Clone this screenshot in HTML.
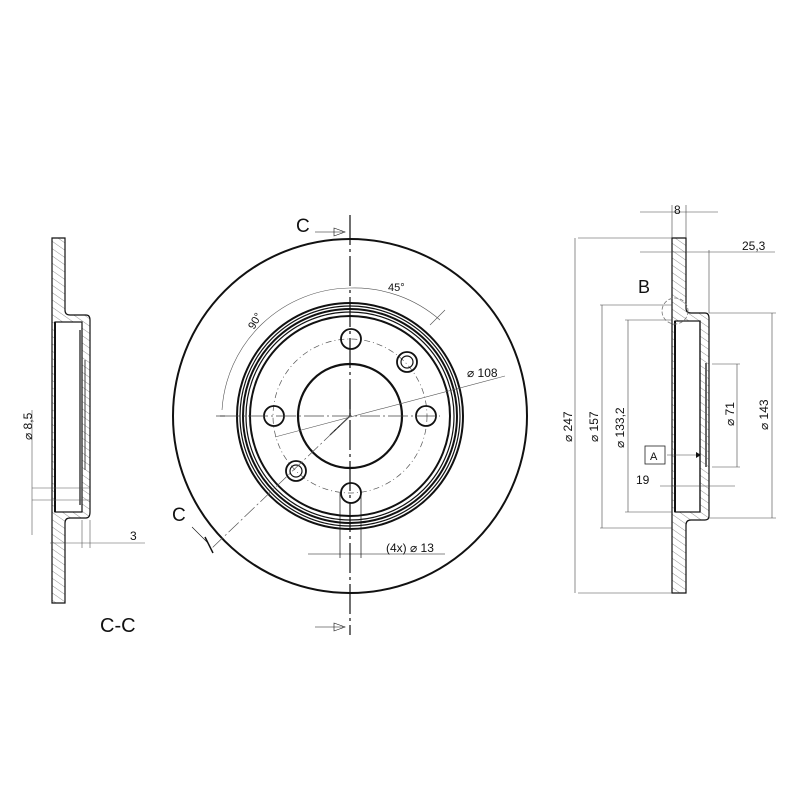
<!DOCTYPE html>
<html><head><meta charset="utf-8"><style>
html,body{margin:0;padding:0;background:#fff}
svg{display:block}
text{font-family:"Liberation Sans",sans-serif;fill:#111}
</style></head><body>
<svg width="800" height="800" viewBox="0 0 800 800" xmlns="http://www.w3.org/2000/svg">
<defs>
<pattern id="h" width="6" height="6" patternUnits="userSpaceOnUse" patternTransform="rotate(-55)">
<line x1="0" y1="0" x2="0" y2="6" stroke="#777" stroke-width="0.8"/>
</pattern>
</defs>
<rect width="800" height="800" fill="#fff"/>

<!-- ============ CENTER VIEW ============ -->
<g fill="none" stroke="#111">
<circle cx="350" cy="416" r="177" stroke-width="2"/>
<circle cx="350" cy="416" r="113" stroke-width="2"/>
<circle cx="350" cy="416" r="110" stroke-width="1.2"/>
<circle cx="350" cy="416" r="107" stroke-width="2"/>
<circle cx="350" cy="416" r="104" stroke-width="1.2"/>
<circle cx="350" cy="416" r="100" stroke-width="2"/>
<circle cx="350" cy="416" r="52" stroke-width="2.2"/>
<circle cx="350" cy="416" r="77" stroke-width="0.7" stroke-dasharray="6,3,1,3" stroke="#555"/>
<circle cx="351" cy="339" r="10" stroke-width="1.8"/>
<circle cx="274" cy="416" r="10" stroke-width="1.8"/>
<circle cx="426" cy="416" r="10" stroke-width="1.8"/>
<circle cx="351" cy="493" r="10" stroke-width="1.8"/>
<circle cx="407" cy="362" r="10" stroke-width="1.8"/><circle cx="407" cy="362" r="6" stroke-width="1.2"/>
<circle cx="296" cy="471" r="10" stroke-width="1.8"/><circle cx="296" cy="471" r="6" stroke-width="1.2"/>
<line x1="350" y1="215" x2="350" y2="635" stroke-width="1.2" stroke-dasharray="30,4,3,4"/>
<line x1="220" y1="416" x2="440" y2="416" stroke-width="0.7" stroke-dasharray="20,3,2,3" stroke="#444"/>
<line x1="350" y1="416" x2="330" y2="435" stroke-width="1.2"/>
<line x1="350" y1="416" x2="350" y2="390" stroke-width="1.2"/>
<line x1="350" y1="416" x2="212" y2="548" stroke-width="0.7" stroke-dasharray="14,3,2,3" stroke="#555"/>
<line x1="205" y1="537" x2="213" y2="553" stroke-width="1.5"/>
<line x1="315" y1="232" x2="343" y2="232" stroke-width="0.6"/>
<path d="M334 228 L345 232 L334 236 Z" stroke-width="0.6"/>
<line x1="315" y1="627" x2="343" y2="627" stroke-width="0.6"/>
<path d="M334 623 L345 627 L334 631 Z" stroke-width="0.6"/>
<line x1="192" y1="527" x2="208" y2="543" stroke-width="0.6"/>
<path d="M222 410 A130 130 0 0 1 350 288" stroke-width="0.6" stroke="#555"/>
<path d="M350 288 A130 130 0 0 1 440 320" stroke-width="0.6" stroke="#555"/>
<line x1="216" y1="416" x2="225" y2="416" stroke-width="0.6"/>
<line x1="430" y1="325" x2="445" y2="310" stroke-width="0.6" stroke="#555"/>
<line x1="275" y1="437" x2="505" y2="376" stroke-width="0.6" stroke="#555"/>
<line x1="340" y1="493" x2="340" y2="558" stroke-width="0.7"/>
<line x1="361" y1="493" x2="361" y2="558" stroke-width="0.7"/>
<line x1="308" y1="554" x2="445" y2="554" stroke-width="0.6"/>
</g>
<text x="296" y="232" font-size="19">C</text>
<text x="172" y="521" font-size="19">C</text>
<text x="388" y="291" font-size="11">45°</text>
<text x="254" y="330" font-size="11" transform="rotate(-60 254 330)">90°</text>
<text x="467" y="377" font-size="12">⌀ 108</text>
<text x="386" y="552" font-size="12">(4x) ⌀ 13</text>

<!-- ============ LEFT SECTION C-C ============ -->
<g stroke="#111" stroke-width="1.2">
<path d="M52 238 L65 238 L65 310 Q65 315 70 315 L86 315 Q90 315 90 320 L90 512 Q90 518 86 518 L70 518 Q65 518 65 523 L65 603 L52 603 Z" fill="url(#h)"/>
<rect x="55" y="322" width="27" height="190" fill="#fff"/>
<line x1="55" y1="322" x2="55" y2="512" stroke-width="2"/>
<line x1="80" y1="330" x2="80" y2="505"/>
<line x1="85" y1="360" x2="85" y2="470" stroke-width="0.8"/>
</g>
<g stroke="#555" stroke-width="0.6" fill="none">
<line x1="32" y1="488" x2="90" y2="488"/>
<line x1="32" y1="500" x2="90" y2="500"/>
<line x1="32" y1="410" x2="32" y2="535"/>
<line x1="50" y1="543" x2="145" y2="543"/>
<line x1="82" y1="520" x2="82" y2="548"/>
<line x1="90" y1="520" x2="90" y2="548"/>
</g>
<text x="32" y="440" font-size="12" transform="rotate(-90 32 440)">⌀ 8,5</text>
<text x="130" y="540" font-size="12">3</text>
<text x="100" y="632" font-size="20">C-C</text>

<!-- ============ RIGHT VIEW ============ -->
<g stroke="#111" stroke-width="1.2">
<path d="M672 238 L686 238 L686 308 Q686 313 691 313 L705 313 Q709 313 709 318 L709 516 Q709 520 705 520 L691 520 Q686 520 686 525 L686 593 L672 593 Z" fill="url(#h)"/>
<rect x="675" y="321" width="25" height="191" fill="#fff"/>
<line x1="675" y1="321" x2="675" y2="512" stroke-width="2"/>
<line x1="700" y1="321" x2="700" y2="512"/>
<line x1="706" y1="363" x2="706" y2="467" stroke-width="2" stroke="#666"/>
</g>
<circle cx="675" cy="311" r="13" fill="none" stroke="#777" stroke-width="0.8" stroke-dasharray="4,2"/>
<g stroke="#444" stroke-width="0.6" fill="none">
<line x1="578" y1="238" x2="672" y2="238"/>
<line x1="578" y1="593" x2="672" y2="593"/>
<line x1="575" y1="238" x2="575" y2="593"/>
<line x1="600" y1="305" x2="672" y2="305"/>
<line x1="600" y1="528" x2="672" y2="528"/>
<line x1="602" y1="305" x2="602" y2="528"/>
<line x1="625" y1="320" x2="672" y2="320"/>
<line x1="625" y1="512" x2="672" y2="512"/>
<line x1="628" y1="320" x2="628" y2="512"/>
<line x1="709" y1="313" x2="776" y2="313"/>
<line x1="709" y1="518" x2="776" y2="518"/>
<line x1="772" y1="313" x2="772" y2="518"/>
<line x1="712" y1="364" x2="740" y2="364"/>
<line x1="712" y1="467" x2="740" y2="467"/>
<line x1="737" y1="364" x2="737" y2="467"/>
<line x1="640" y1="212" x2="718" y2="212"/>
<line x1="672" y1="205" x2="672" y2="238"/>
<line x1="686" y1="205" x2="686" y2="238"/>
<line x1="640" y1="252" x2="775" y2="252"/>
<line x1="709" y1="250" x2="709" y2="313"/>
<line x1="660" y1="486" x2="735" y2="486"/>
<line x1="667" y1="455" x2="700" y2="455"/>
</g>
<rect x="645" y="446" width="20" height="18" fill="#fff" stroke="#222" stroke-width="0.8"/>
<text x="650" y="460" font-size="11">A</text>
<path d="M696 452 L701 455 L696 458 Z" fill="#111"/>
<text x="674" y="214" font-size="12">8</text>
<text x="742" y="250" font-size="12">25,3</text>
<text x="638" y="293" font-size="18">B</text>
<text x="636" y="484" font-size="12">19</text>
<text x="572" y="442" font-size="12" transform="rotate(-90 572 442)">⌀ 247</text>
<text x="598" y="442" font-size="12" transform="rotate(-90 598 442)">⌀ 157</text>
<text x="624" y="448" font-size="12" transform="rotate(-90 624 448)">⌀ 133,2</text>
<text x="734" y="426" font-size="12" transform="rotate(-90 734 426)">⌀ 71</text>
<text x="768" y="430" font-size="12" transform="rotate(-90 768 430)">⌀ 143</text>
</svg>
</body></html>
